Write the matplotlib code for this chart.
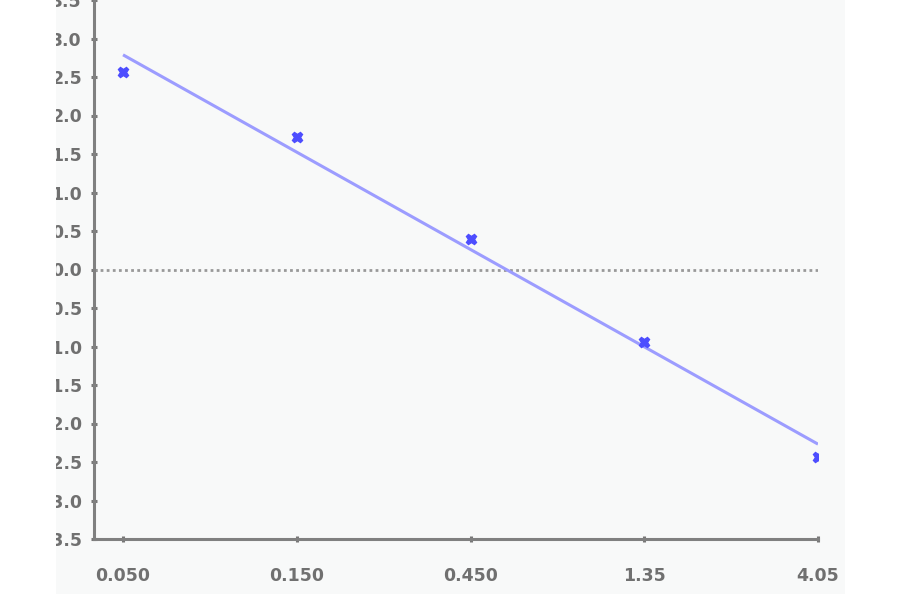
import numpy as np
import matplotlib
matplotlib.use("Agg")
import matplotlib.pyplot as plt
from matplotlib.patches import Rectangle
from matplotlib.transforms import Bbox, TransformedBbox

# ---- data ----
x_labels = ["0.050", "0.150", "0.450", "1.35", "4.05"]
x_values = [0.050, 0.150, 0.450, 1.35, 4.05]
y_values = [2.56, 1.72, 0.39, -0.94, -2.43]
y_ticks = [3.5, 3.0, 2.5, 2.0, 1.5, 1.0, 0.5, 0.0,
           -0.5, -1.0, -1.5, -2.0, -2.5, -3.0, -3.5]

W, H = 900, 594
fig = plt.figure(figsize=(W / 100, H / 100), dpi=100)
fig.patch.set_facecolor("white")

panel_color = "#f8f9f9"
panel_left, panel_right = 56 / W, 845 / W
fig.patches.append(Rectangle((panel_left, 0), panel_right - panel_left, 1,
                             transform=fig.transFigure, facecolor=panel_color,
                             edgecolor="none", zorder=-10))

ax = fig.add_axes([94 / W, 55 / H, (818 - 94) / W, 539 / H])
ax.set_facecolor("none")
ax.set_zorder(1)

# categorical-log positions
pos = np.log(np.array(x_values) / x_values[0]) / np.log(3)
yv = np.array(y_values)

# regression line over log x
coef = np.polyfit(pos, yv, 1)
ax.plot(pos, np.polyval(coef, pos), color="#9c9cff", lw=2.2, zorder=3,
        solid_capstyle="butt")

# zero line
ax.axhline(0, color="#999999", lw=2, ls=(0, (1, 1.2)), zorder=2)

# markers
ax.plot(pos, yv, ls="none", marker="X", ms=7.5, color="#4d4dff",
        markeredgecolor="#4d4dff", zorder=4)

ax.set_xlim(-0.167, 4.0)
ax.set_ylim(-3.5, 3.5)

ax.set_xticks(pos)
ax.set_xticklabels(x_labels)
ax.set_yticks(y_ticks)
ax.set_yticklabels([f"{v:.1f}" for v in y_ticks])

for s in ["top", "right"]:
    ax.spines[s].set_visible(False)
for s in ["left", "bottom"]:
    ax.spines[s].set_color("#808080")
    ax.spines[s].set_linewidth(2.2)

ax.tick_params(axis="both", direction="inout", length=5, width=2.2,
               color="#777777", labelcolor="#707070", labelsize=12.5)
ax.tick_params(axis="x", pad=18)
ax.tick_params(axis="y", pad=6.2)

clip = TransformedBbox(Bbox([[panel_left, 0], [panel_right, 1]]), fig.transFigure)
for lbl in ax.get_yticklabels() + ax.get_xticklabels():
    lbl.set_fontweight("bold")
    lbl.set_clip_box(clip)
    lbl.set_clip_on(True)

fig.savefig("out.png", dpi=100, facecolor="white")
